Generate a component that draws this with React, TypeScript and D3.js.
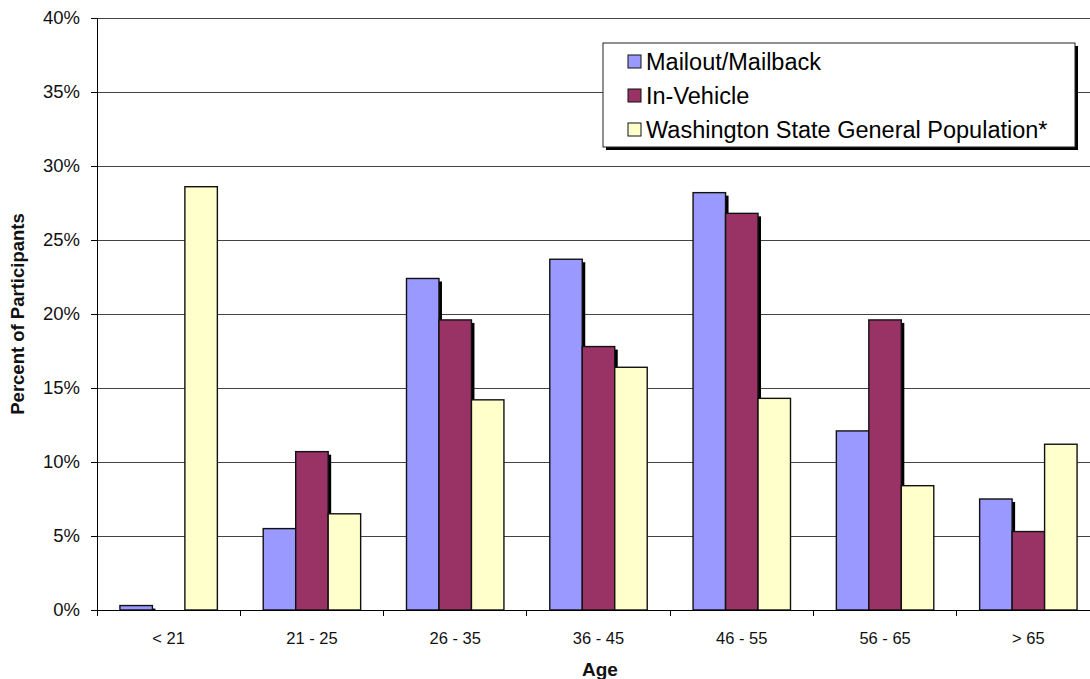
import React from "react";
import * as d3 from "d3";

const categories = ["< 21", "21 - 25", "26 - 35", "36 - 45", "46 - 55", "56 - 65", "> 65"];
const seriesNames = ["Mailout/Mailback", "In-Vehicle", "Washington State General Population*"];
const mailout = [0.3, 5.5, 22.4, 23.7, 28.2, 12.1, 7.5];
const inVehicle = [0, 10.7, 19.6, 17.8, 26.8, 19.6, 5.3];
const waPop = [28.6, 6.5, 14.2, 16.4, 14.3, 8.4, 11.2];
const yTicks = [0, 5, 10, 15, 20, 25, 30, 35, 40];
const colors = ["#9999FF", "#993366", "#FFFFCC"];
const hasShadow = [true, true, false];

const W = 1090, H = 679;
const left = 97, right = 1100, top = 18, bottom = 610;
const FONT = "'Liberation Sans', Arial, sans-serif";

export default function App() {
  const series = [mailout, inVehicle, waPop];
  const x = d3.scaleBand<string>().domain(categories).range([left, right]).paddingInner(0.32).paddingOuter(0.16);
  const xs = d3.scaleBand<number>().domain([0, 1, 2]).range([0, x.bandwidth()]);
  const y = d3.scaleLinear().domain([0, 40]).range([bottom, top]);
  const step = (right - left) / categories.length;
  const sh = 3;

  return (
    <svg width={W} height={H} style={{ position: "absolute", left: 0, top: 0, background: "#fff" }} fontFamily={FONT}>
      {yTicks.map((t) => (
        <line key={"g" + t} x1={left} x2={right} y1={y(t)} y2={y(t)} stroke={t === 0 ? "#000" : "#444"} strokeWidth={1} shapeRendering="crispEdges" />
      ))}
      {yTicks.map((t) => (
        <g key={"t" + t}>
          <line x1={left - 6} x2={left} y1={y(t)} y2={y(t)} stroke="#000" shapeRendering="crispEdges" />
          <text x={80} y={y(t)} dy="0.35em" textAnchor="end" fontSize={18.5} fill="#111">{t}%</text>
        </g>
      ))}
      {d3.range(categories.length + 1).map((i) => (
        <line key={"xt" + i} x1={left + i * step} x2={left + i * step} y1={bottom} y2={bottom + 6} stroke="#000" shapeRendering="crispEdges" />
      ))}
      {categories.map((c, ci) => (
        <g key={c}>
          {series.map((s, si) => {
            const bx = (x(c) as number) + (xs(si) as number);
            const bw = xs.bandwidth();
            const by = y(s[ci]);
            const bh = bottom - by;
            if (bh <= 0) return null;
            return (
              <g key={si}>
                {hasShadow[si] && (
                  <rect x={bx + sh} y={by + sh} width={bw} height={Math.max(0, bh - sh)} fill="#000" />
                )}
                <rect x={bx} y={by} width={bw} height={bh} fill={colors[si]} stroke="#111" strokeWidth={1.4} />
              </g>
            );
          })}
        </g>
      ))}
      <line x1={left} x2={left} y1={top} y2={bottom} stroke="#000" strokeWidth={1} shapeRendering="crispEdges" />
      <line x1={left} x2={right} y1={bottom} y2={bottom} stroke="#000" strokeWidth={1} shapeRendering="crispEdges" />
      {categories.map((c) => (
        <text key={"xl" + c} x={(x(c) as number) + x.bandwidth() / 2} y={638} dy="0.35em" textAnchor="middle" fontSize={16.5} fill="#111">{c}</text>
      ))}
      <text x={600} y={669} dy="0.35em" textAnchor="middle" fontSize={19} fontWeight="bold" fill="#111">Age</text>
      <text transform={`translate(18,${(top + bottom) / 2}) rotate(-90)`} dy="0.35em" textAnchor="middle" fontSize={18.5} fontWeight="bold" fill="#111">Percent of Participants</text>
      <g>
        <rect x={606} y={46} width={472} height={104} fill="#000" />
        <rect x={603} y={43} width={472} height={104} fill="#fff" stroke="#222" strokeWidth={1} />
        {seriesNames.map((n, i) => (
          <g key={n}>
            <rect x={628} y={55 + i * 34} width={13} height={13} fill={colors[i]} stroke="#111" strokeWidth={1} />
            <text x={646} y={62 + i * 34} dy="0.35em" fontSize={23.5} fill="#000">{n}</text>
          </g>
        ))}
      </g>
    </svg>
  );
}
